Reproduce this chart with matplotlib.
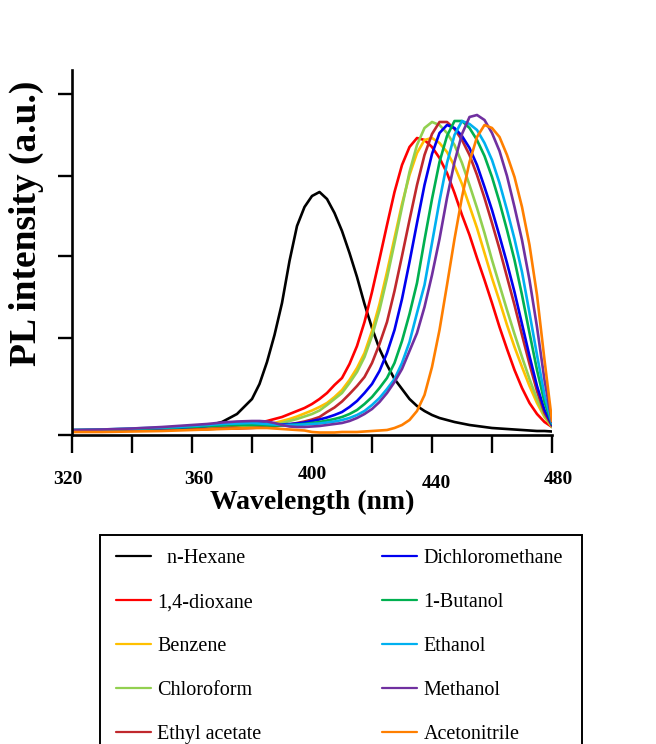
import matplotlib
matplotlib.use("Agg")
import matplotlib.pyplot as plt
import matplotlib.transforms as mtransforms
from matplotlib.patches import Rectangle

# wavelength grid (nm) shared by all spectra
wavelength = [320, 330, 340, 350, 355, 360, 365, 370, 375, 380,
              382.5, 385, 387.5, 390, 392.5, 395, 397.5, 400, 402.5, 405,
              407.5, 410, 412.5, 415, 417.5, 420, 422.5, 425, 427.5, 430,
              432.5, 435, 437.5, 440, 442.5, 445, 447.5, 450, 452.5, 455,
              457.5, 460, 462.5, 465, 467.5, 470, 472.5, 475, 477.5, 480]

# PL intensity (a.u.)
hexane = [4, 5, 5, 6, 6, 7, 9, 13, 21, 36,
          51, 73, 100, 132, 174, 209, 228, 239, 243, 236,
          222, 204, 182, 158, 131, 107, 86, 70, 56, 46,
          36, 29, 24, 20, 17, 15, 13, 11.5, 10, 9,
          8, 7, 6.5, 6, 5.5, 5, 4.5, 4, 4, 3.5]
dioxane = [4, 4.5, 5, 5.5, 6, 6, 6, 7, 8, 11,
           12.5, 14, 16, 18, 21, 24, 27, 31, 36, 42,
           50, 57, 71, 89, 113, 143, 176, 210, 243, 270,
           288, 297, 295, 288, 277, 262, 242, 220, 200, 177,
           155, 132, 108, 86, 65, 47, 32, 21, 13, 8]
benzene = [4, 4.5, 5, 5.5, 6, 6, 6, 6.5, 7, 8,
           9, 9.5, 12, 14, 16, 18.5, 21.5, 24.5, 28, 32,
           38, 45, 55, 67, 82, 104, 131, 163, 197, 231,
           260, 282, 295, 297, 292, 283, 269, 251, 229, 207,
           182, 157, 134, 110, 88, 68, 49, 32, 18, 8]
chloroform = [4, 4.5, 5, 5.5, 6, 6, 6, 6.5, 7, 8,
              8.5, 9.5, 10.5, 12, 14, 16, 18.5, 21, 24.5, 30,
              36, 42, 52, 63, 78, 99, 125, 157, 192, 228,
              263, 290, 307, 313, 310, 302, 290, 272, 250, 227,
              202, 175, 150, 125, 101, 78, 56, 36, 19, 8]
ethyl_acetate = [4, 4.5, 5, 5.5, 6, 6, 6, 6.5, 6.5, 7,
                 7.5, 8, 8.5, 9.5, 10.5, 12, 13.5, 15.5, 18, 23,
                 27.5, 33.5, 41, 49, 58, 72, 91, 113, 144, 179,
                 215, 250, 280, 301, 313, 313, 306, 295, 280, 260,
                 237, 212, 186, 158, 130, 100, 71, 44, 22, 9]
dcm = [4.5, 5, 5.5, 6.5, 7, 8, 9, 10, 11, 11.5,
       11.5, 11, 10.5, 10.5, 11, 11.5, 12.5, 14, 15.5, 17.5,
       20, 23, 28, 34, 42, 51, 64, 82, 105, 136,
       173, 212, 250, 281, 302, 310, 307, 299, 287, 270,
       248, 225, 199, 172, 143, 111, 79, 49, 25, 10]
butanol = [5, 5.5, 6, 7, 7.5, 8, 9, 9.5, 10, 10,
           10, 9.5, 9.5, 9.5, 10, 10.5, 11, 12, 13, 14.5,
           16, 18, 21, 25, 31, 38, 47, 57, 72, 94,
           121, 152, 195, 236, 273, 299, 314, 314, 307, 295,
           279, 258, 233, 205, 175, 140, 102, 65, 33, 11]
ethanol = [5, 5.5, 6.5, 7.5, 8, 9, 10, 11, 11.5, 12,
           11.5, 11, 10.5, 10, 10, 10, 10.5, 11, 11.5, 12.5,
           13.5, 15, 17, 20, 24, 30, 37, 46, 56, 72,
           93, 122, 150, 192, 234, 272, 300, 314, 311, 305,
           292, 275, 252, 225, 196, 163, 122, 80, 40, 12]
methanol = [5, 5.5, 6.5, 8, 9, 10, 11, 12.5, 13.5, 14,
            14, 13.5, 12, 10, 8.5, 8, 8, 8.5, 9, 10,
            11, 12, 14, 17, 21, 26, 33, 42, 53, 66,
            84, 102, 128, 160, 196, 237, 273, 301, 318, 320,
            315, 302, 284, 259, 228, 195, 155, 108, 55, 13]
acetonitrile = [3, 3, 3.5, 4, 4.5, 5, 5.5, 6, 6.5, 7,
                7, 7, 6.5, 6, 5.5, 5, 4.5, 3, 2.5, 2.5,
                2.5, 3, 3, 3, 3.5, 4, 4.5, 5, 7, 10,
                15, 24, 40, 68, 105, 150, 196, 238, 273, 298,
                310, 307, 298, 280, 258, 228, 190, 140, 75, 14]

series = [hexane, dioxane, benzene, chloroform, ethyl_acetate,
          dcm, butanol, ethanol, methanol, acetonitrile]
labels = ["  n-Hexane", "1,4-dioxane", "Benzene", "Chloroform", "Ethyl acetate",
          "Dichloromethane", "1-Butanol", "Ethanol", "Methanol", "Acetonitrile"]
colors = ["#000000", "#FF0000", "#FFC000", "#92D050", "#C0282D",
          "#0000F0", "#00B050", "#00B0F0", "#7030A0", "#FF7F00"]

major_x = [320, 360, 400, 440, 480]
minor_x = [340, 380, 420, 460]
y_ticks = [0, 97, 179, 259, 341]

plt.rcParams["font.family"] = ["Liberation Serif", "DejaVu Serif"]

W, H = 656, 744
fig = plt.figure(figsize=(W / 100, H / 100), dpi=100)
ax = fig.add_axes([72 / W, 1 - 435 / H, 480 / W, 365 / H])

handles = []
for y, lab, c in zip(series, labels, colors):
    h, = ax.plot(wavelength, y, color=c, lw=1.9, label=lab,
                 solid_capstyle="round", solid_joinstyle="round")
    handles.append(h)

ax.set_xlim(320, 480)
ax.set_ylim(0, 365)
for s in ["top", "right"]:
    ax.spines[s].set_visible(False)
for s in ["left", "bottom"]:
    ax.spines[s].set_linewidth(1.9)

ax.set_xticks(major_x)
ax.set_xticks(minor_x, minor=True)
ax.set_yticks(y_ticks)
ax.set_yticklabels([])
ax.tick_params(axis="x", which="both", direction="out", length=13, width=1.7)
ax.tick_params(axis="x", which="major", pad=13, labelsize=14)
ax.tick_params(axis="y", direction="out", length=10, width=1.7)
for t in ax.get_xticklabels():
    t.set_fontweight("bold")

# the original tick labels sit a little off their ticks
label_shift = {320: (-4, 0), 360: (7, 0), 400: (0, 5), 440: (4, -4), 480: (6, 0)}
for val, t in zip(major_x, ax.get_xticklabels()):
    dx, dy = label_shift[val]
    t.set_transform(t.get_transform() + mtransforms.ScaledTranslation(dx / 100, dy / 100, fig.dpi_scale_trans))

ax.set_xlabel("Wavelength (nm)", fontsize=20, fontweight="bold")
ax.xaxis.set_label_coords(0.5, -55 / 365)
ax.set_ylabel("PL intensity (a.u.)", fontsize=27, fontweight="bold")
ax.yaxis.set_label_coords(-28 / 480, (435 - 223) / 365)

# legend box (bottom edge falls outside the image)
fig.add_artist(Rectangle((100 / W, -0.1), 482 / W, 1 - 535 / H + 0.1, fill=False,
                         edgecolor="black", lw=1.4, transform=fig.transFigure, clip_on=False))
leg = fig.legend(handles, labels, loc="upper left", ncol=2, mode="expand",
                 bbox_to_anchor=(116 / W, 1 - 549 / H, (563 - 116) / W, 0),
                 frameon=False, borderpad=0, borderaxespad=0, fontsize=14.5,
                 handlelength=1.75, handletextpad=0.3, labelspacing=1.24)
for line in leg.get_lines():
    line.set_linewidth(1.6)

fig.savefig("out.png", dpi=100)
